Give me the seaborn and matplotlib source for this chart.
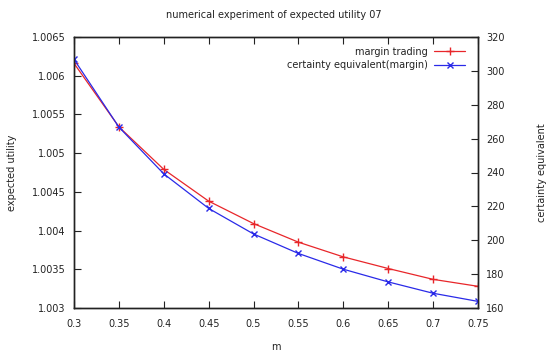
import matplotlib
matplotlib.use("Agg")
import matplotlib.pyplot as plt
import seaborn as sns
import pandas as pd

m_values = [0.3, 0.35, 0.4, 0.45, 0.5, 0.55, 0.6, 0.65, 0.7, 0.75]
expected_utility = [1.00616, 1.00534, 1.00479, 1.00438, 1.00409, 1.00385,
                    1.00366, 1.00351, 1.00337, 1.00328]
certainty_equiv = [306.8, 266.8, 239.2, 218.8, 203.7, 192.2, 182.9, 175.4, 168.7, 163.9]

x_ticks = [0.3, 0.35, 0.4, 0.45, 0.5, 0.55, 0.6, 0.65, 0.7, 0.75]
x_tick_labels = ["0.3", "0.35", "0.4", "0.45", "0.5", "0.55", "0.6", "0.65", "0.7", "0.75"]
y_ticks = [1.003, 1.0035, 1.004, 1.0045, 1.005, 1.0055, 1.006, 1.0065]
y_tick_labels = ["1.003", "1.0035", "1.004", "1.0045", "1.005", "1.0055", "1.006", "1.0065"]
y2_ticks = [160, 180, 200, 220, 240, 260, 280, 300, 320]
y2_tick_labels = [str(v) for v in y2_ticks]

title = "numerical experiment of expected utility 07"
label_red = "margin trading"
label_blue = "certainty equivalent(margin)"

sns.set_style("white")
plt.rcParams["font.family"] = ["DejaVu Sans"]
fs = 7

df = pd.DataFrame({"m": m_values, "eu": expected_utility, "ce": certainty_equiv})

fig = plt.figure(figsize=(5.47, 3.53), dpi=100)
ax = fig.add_axes([74 / 547, 1 - 308 / 353, 404 / 547, 271 / 353])
ax2 = ax.twinx()

red = "#e8262a"
blue = "#2a2ae8"
sns.lineplot(data=df, x="m", y="eu", ax=ax, color=red, marker="+", markersize=6,
             markeredgecolor=red, markeredgewidth=1.0, linewidth=0.9,
             label=label_red, legend=False)
sns.lineplot(data=df, x="m", y="ce", ax=ax2, color=blue, marker="x", markersize=5,
             markeredgecolor=blue, markeredgewidth=1.0, linewidth=0.9,
             label=label_blue, legend=False)

ax.set_xlim(0.3, 0.75)
ax.set_ylim(1.003, 1.0065)
ax2.set_ylim(160, 320)

ax.set_xticks(x_ticks)
ax.set_xticklabels(x_tick_labels, fontsize=fs, color="#222222")
ax.set_yticks(y_ticks)
ax.set_yticklabels(y_tick_labels, fontsize=fs, color="#222222")
ax2.set_yticks(y2_ticks)
ax2.set_yticklabels(y2_tick_labels, fontsize=fs, color="#222222")

ax.tick_params(axis="x", direction="in", length=5, width=0.8, top=True, bottom=True, pad=8, color="#222222")
ax.tick_params(axis="y", direction="in", length=5, width=0.8, left=True, right=False, pad=6, color="#222222")
ax2.tick_params(axis="y", direction="in", length=5, width=0.8, right=True, left=False, pad=6, color="#222222")

for a in (ax, ax2):
    for s in a.spines.values():
        s.set_visible(True)
        s.set_linewidth(1.0)
        s.set_color("#222222")

ax.set_xlabel("m", fontsize=fs, color="#222222")
ax.xaxis.set_label_coords(0.5, -0.125)
ax.set_ylabel("expected utility", fontsize=fs, color="#222222")
ax.yaxis.set_label_coords(-0.14, 0.5)
ax2.set_ylabel("certainty equivalent", fontsize=fs, color="#222222")
ax2.yaxis.set_label_coords(1.145, 0.5)

fig.text(0.5, 1 - 15 / 353, title, ha="center", va="center", fontsize=fs, color="#222222")

h1, l1 = ax.get_legend_handles_labels()
h2, l2 = ax2.get_legend_handles_labels()
leg = ax2.legend(h1 + h2, l1 + l2, loc="upper right", frameon=False, markerfirst=False,
                 fontsize=fs, handlelength=3.2, handletextpad=0.6, labelspacing=0.35,
                 borderaxespad=0.3, bbox_to_anchor=(0.985, 0.99))
for t in leg.get_texts():
    t.set_color("#222222")

fig.savefig("out.png", dpi=100)
